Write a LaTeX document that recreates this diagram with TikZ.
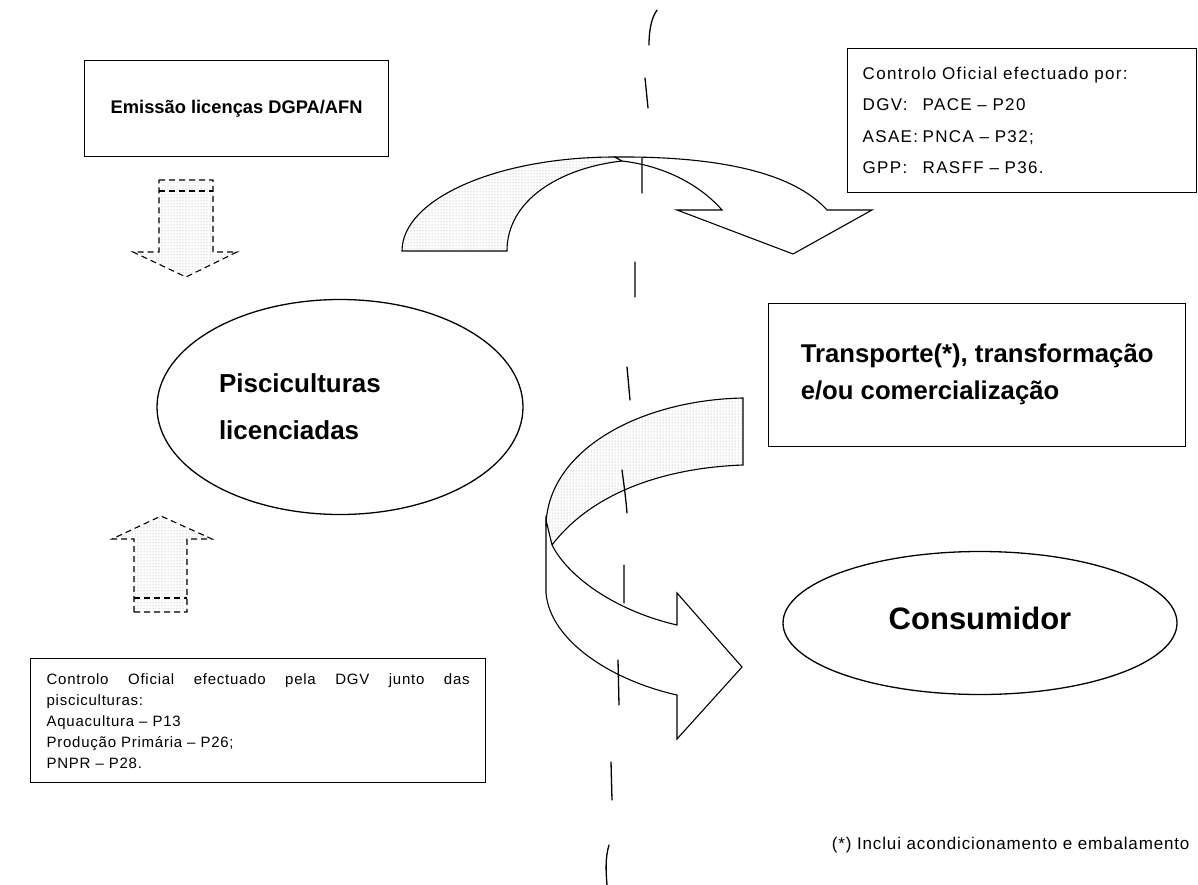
\documentclass[tikz,border=0pt]{standalone}
\usepackage{fontspec}
\setmainfont{Liberation Sans}
\newfontfamily\spaced[LetterSpace=8]{Liberation Sans}
\newfontfamily\spacedsmall[LetterSpace=5]{Liberation Sans}
\usetikzlibrary{patterns,shapes.geometric}
\begin{document}
\begin{tikzpicture}[x=1pt,y=-1pt,
  box/.style={draw, line width=1.3pt, rectangle, inner sep=0pt},
  oval/.style={draw, line width=1.3pt, ellipse, inner sep=0pt},
  dasharrow/.style={draw, line width=1.1pt, dash pattern=on 6pt off 4pt, pattern=dots, pattern color=gray!80},
  ribbonback/.style={draw, line width=1.1pt, pattern=dots, pattern color=gray!80},
  ribbonfront/.style={draw, line width=1.1pt, fill=white},
  divider/.style={line width=1.3pt, line cap=round},
]
\useasboundingbox (0,0) rectangle (1198,885);

% licence box and the dashed arrow below it
\node[box, anchor=north west, minimum width=304pt, minimum height=96pt,
      font=\bfseries\fontsize{18.3}{22}\selectfont] (emis) at (84,60) {Emissão licenças DGPA/AFN};
\path[dasharrow] (159,180) -- (213,180) -- (213,252) -- (237,252) -- (186,277)
   -- (133,252) -- (159,252) -- cycle;
\draw[line width=1.1pt, dash pattern=on 6pt off 4pt] (159,191) -- (213,191);

% fish farms
\node[oval, minimum width=366pt, minimum height=215pt, align=left, text width=242pt,
      font=\bfseries\fontsize{26}{47}\selectfont] (farms) at (340,407) {Pisciculturas\\licenciadas};

% dashed arrow up from the control box
\path[dasharrow] (134,612) -- (134,539) -- (112,539) -- (161,516) -- (212,539)
   -- (187,539) -- (187,612) -- cycle;
\draw[line width=1.1pt, dash pattern=on 6pt off 4pt] (134,598) -- (187,598);

% official control on the farms
\node[box, anchor=north west, minimum width=455pt, minimum height=124pt, align=left,
      text width=423pt, font=\spacedsmall\fontsize{15}{21}\selectfont] (ctrlfarm) at (30,658)
  {\makebox[423pt][l]{Controlo\hfill Oficial\hfill efectuado\hfill pela\hfill DGV\hfill junto\hfill das}\\
   pisciculturas:\\ Aquacultura – P13\\ Produção Primária – P26;\\ PNPR – P28.};

% official control downstream
\node[box, anchor=north west, minimum width=349pt, minimum height=144pt, align=left,
      text width=319pt, font=\spaced\fontsize{17}{31.5}\selectfont] (ctrlmkt) at (847,48)
  {Controlo Oficial efectuado por:\\
   \makebox[60pt][l]{DGV:}PACE – P20\\
   \makebox[60pt][l]{ASAE:}PNCA – P32;\\
   \makebox[60pt][l]{GPP:}RASFF – P36.};

% transport box and consumer
\node[box, anchor=north west, minimum width=417pt, minimum height=143pt, align=left,
      font=\bfseries\fontsize{25.7}{37}\selectfont] (transp) at (768,303)
  {Transporte(*), transformação\\e/ou comercialização\rule[-6pt]{0pt}{0pt}};
\node[oval, minimum width=394pt, minimum height=143pt,
      font=\bfseries\fontsize{31}{34}\selectfont] (cons) at (980,623) {\raisebox{10pt}{Consumidor}};

% upper curved ribbon arrow: rising back leg, then the front leg with its head
\path[ribbonback] (402,251) .. controls (402,199) and (497,157) .. (615,157)
   -- (622,161) .. controls (560,168) and (507,200) .. (507,251) -- cycle;
\path[ribbonfront] (615,157) .. controls (740,156) and (800,180) .. (827,210)
   -- (872,210) -- (793,254) -- (677,210) -- (722,210)
   .. controls (700,185) and (665,166) .. (622,161) -- cycle;

% lower curved ribbon arrow
\path[ribbonback] (743,398) .. controls (640,400) and (548,450) .. (546,525)
   -- (552,545) .. controls (590,495) and (660,468) .. (743,465) -- cycle;
\path[ribbonfront] (546,520) -- (546,593) .. controls (550,640) and (610,680) .. (677,695)
   -- (677,739) -- (742,667) -- (677,593) -- (677,625)
   .. controls (620,612) and (570,580) .. (552,545) -- cycle;

% dividing line between production and market
\draw[divider] (657,10) .. controls (650,20) and (649,35) .. (649,45)
  (645,78) -- (648,108)
  (642,158) -- (642,193)
  (635,262) -- (635,297)
  (627,367) -- (630,400)
  (622,470) .. controls (624,485) and (626,500) .. (627,513)
  (624,565) -- (624,603)
  (618,660) -- (619,705)
  (611,762) -- (612,800)
  (609,845) .. controls (605,858) and (606,872) .. (607,885);

% footnote
\node[anchor=east, font=\spacedsmall\fontsize{17}{20}\selectfont] (note) at (1193,845)
  {(*) Inclui acondicionamento e embalamento};
\end{tikzpicture}
\end{document}
